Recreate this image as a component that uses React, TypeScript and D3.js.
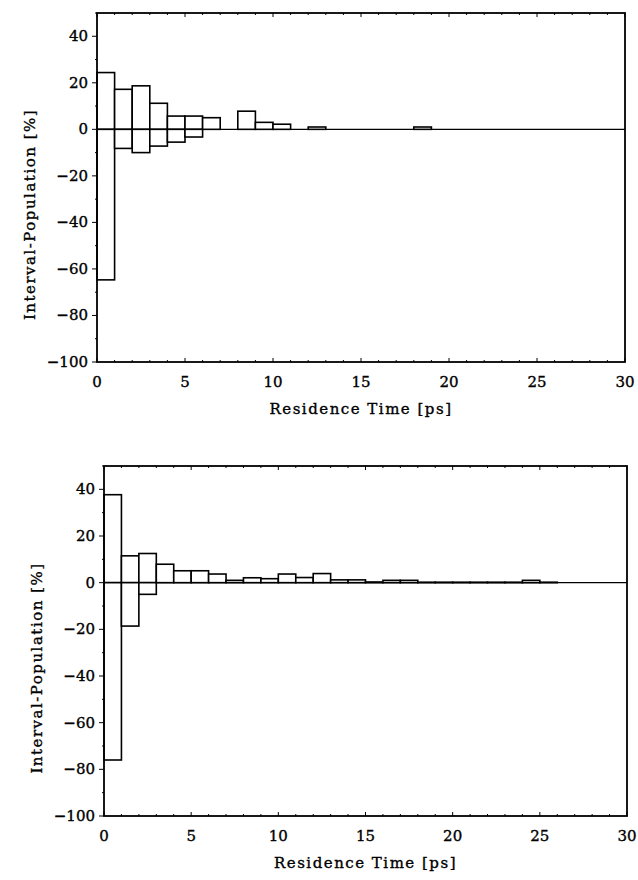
import React from "react";
import * as d3 from "d3";

// Bin starts (ps), bin width 1 ps
const binStarts = d3.range(0, 30);

// Top panel
const topPositive = [24.4, 17.2, 18.7, 11.2, 5.7, 5.7, 5.0, 0, 7.8, 3.0, 2.2, 0, 1.0, 0, 0, 0, 0, 0, 1.0, 0, 0, 0, 0, 0, 0, 0, 0, 0, 0, 0];
const topNegative = [-64.7, -8.2, -10.0, -7.2, -5.5, -3.3, 0, 0, 0, 0, 0, 0, 0, 0, 0, 0, 0, 0, 0, 0, 0, 0, 0, 0, 0, 0, 0, 0, 0, 0];

// Bottom panel
const bottomPositive = [37.7, 11.5, 12.5, 7.9, 5.1, 5.1, 3.7, 1.0, 2.1, 1.7, 3.7, 2.2, 3.9, 1.2, 1.2, 0.3, 1.0, 1.0, 0.2, 0.2, 0.2, 0.2, 0.2, 0.2, 1.0, 0.2, 0, 0, 0, 0];
const bottomNegative = [-76.0, -18.6, -5.0, 0, 0, 0, 0, 0, 0, 0, 0, 0, 0, 0, 0, 0, 0, 0, 0, 0, 0, 0, 0, 0, 0, 0, 0, 0, 0, 0];

const xTicks = [0, 5, 10, 15, 20, 25, 30];
const yTicks = [40, 20, 0, -20, -40, -60, -80, -100];
const xLabel = "Residence Time [ps]";
const yLabel = "Interval-Population [%]";

const FONT = "'DejaVu Serif', 'Liberation Serif', serif";

type PanelProps = {
  x0: number; x1: number; yTop: number; yBottom: number;
  pos: number[]; neg: number[];
};

function Panel({ x0, x1, yTop, yBottom, pos, neg }: PanelProps) {
  const x = d3.scaleLinear().domain([0, 30]).range([x0, x1]);
  const y = d3.scaleLinear().domain([-100, 50]).range([yBottom, yTop]);
  const minorX = d3.range(0, 31, 1);
  const minorY = d3.range(-100, 51, 10);
  const bars: React.ReactNode[] = [];
  binStarts.forEach((b, i) => {
    const p = pos[i];
    const n = neg[i];
    if (p > 0) {
      bars.push(
        <rect key={"p" + i} x={x(b)} y={y(p)} width={x(b + 1) - x(b)} height={y(0) - y(p)}
          fill="white" stroke="black" strokeWidth={1.6} />
      );
    }
    if (n < 0) {
      bars.push(
        <rect key={"n" + i} x={x(b)} y={y(0)} width={x(b + 1) - x(b)} height={y(n) - y(0)}
          fill="white" stroke="black" strokeWidth={1.6} />
      );
    }
  });
  const cx = (x0 + x1) / 2;
  const txt = { fontFamily: FONT, fill: "black", stroke: "black", strokeWidth: 0.35 };
  return (
    <g>
      {minorX.map((t) => (
        <g key={"mx" + t}>
          <line x1={x(t)} x2={x(t)} y1={yBottom} y2={yBottom - (t % 5 === 0 ? 4 : 2)} stroke="black" strokeWidth={1} />
          <line x1={x(t)} x2={x(t)} y1={yTop} y2={yTop + (t % 5 === 0 ? 4 : 2)} stroke="black" strokeWidth={1} />
        </g>
      ))}
      {minorY.map((t) => (
        <line key={"my" + t} x1={x0} x2={x0 - (t % 20 === 0 ? 5 : 2)} y1={y(t)} y2={y(t)} stroke="black" strokeWidth={1} />
      ))}
      <line x1={x0} x2={x1} y1={y(0)} y2={y(0)} stroke="black" strokeWidth={1.3} />
      {bars}
      <rect x={x0} y={yTop} width={x1 - x0} height={yBottom - yTop} fill="none" stroke="black" strokeWidth={1.8} />
      {xTicks.map((t) => (
        <text key={"xt" + t} x={x(t)} y={yBottom + 25} textAnchor="middle" fontSize={15} {...txt}>{t}</text>
      ))}
      {yTicks.map((t) => (
        <text key={"yt" + t} x={x0 - 9} y={y(t) + 5} textAnchor="end" fontSize={15} {...txt}>
          {t < 0 ? "\u2212" + Math.abs(t) : String(t)}
        </text>
      ))}
      <text x={cx} y={yBottom + 52} textAnchor="middle" fontSize={15} letterSpacing={1.5} {...txt}>{xLabel}</text>
      <text transform={`translate(${x0 - 62},${(yTop + yBottom) / 2 + 27}) rotate(-90)`} textAnchor="middle" fontSize={15} letterSpacing={1.5} {...txt}>{yLabel}</text>
    </g>
  );
}

export default function App() {
  return (
    <svg width={638} height={880} style={{ position: "absolute", left: 0, top: 0, background: "white" }}>
      <rect x={0} y={0} width={638} height={880} fill="white" />
      <Panel x0={97} x1={625} yTop={13} yBottom={362} pos={topPositive} neg={topNegative} />
      <Panel x0={104} x1={627} yTop={466} yBottom={816} pos={bottomPositive} neg={bottomNegative} />
    </svg>
  );
}
